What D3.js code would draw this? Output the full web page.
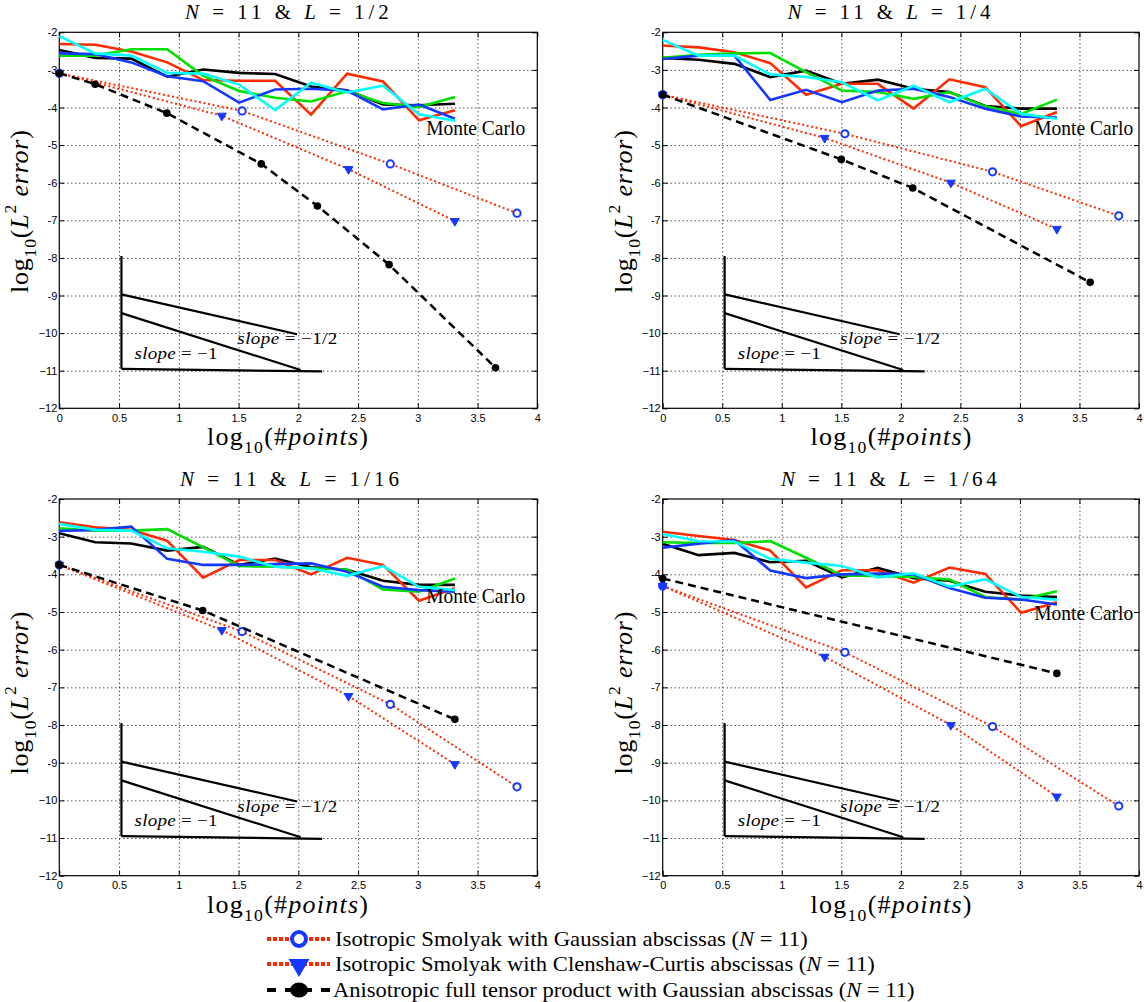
<!DOCTYPE html>
<html><head><meta charset="utf-8">
<script src="https://cdn.jsdelivr.net/npm/d3@7"></script>
<style>body{margin:0;background:#fff}svg{display:block;background:#fff}</style>
</head><body>
<script>
// ---------------- DATA ----------------
const mcX = [0, 0.301, 0.602, 0.903, 1.204, 1.505, 1.806, 2.107, 2.408, 2.709, 3.010, 3.311];

// L = 1/2
const mcBlack_2 = [-2.47,-2.68,-2.70,-3.18,-2.99,-3.08,-3.11,-3.44,-3.54,-3.92,-3.94,-3.90];
const mcRed_2   = [-2.31,-2.33,-2.51,-2.80,-3.27,-3.29,-3.29,-4.19,-3.10,-3.31,-4.34,-4.07];
const mcGreen_2 = [-2.62,-2.62,-2.45,-2.45,-3.16,-3.56,-3.74,-3.84,-3.57,-3.88,-3.99,-3.72];
const mcBlue_2  = [-2.56,-2.58,-2.80,-3.17,-3.30,-3.87,-3.52,-3.50,-3.55,-4.05,-3.92,-4.30];
const mcCyan_2  = [-2.10,-2.56,-2.62,-3.08,-3.10,-3.39,-4.07,-3.34,-3.60,-3.42,-4.18,-4.35];
// L = 1/4
const mcBlack_4 = [-2.68,-2.73,-2.84,-3.19,-3.02,-3.37,-3.26,-3.50,-3.59,-3.96,-4.03,-4.03];
const mcRed_4   = [-2.35,-2.40,-2.53,-2.82,-3.66,-3.37,-3.37,-4.03,-3.25,-3.46,-4.50,-4.12];
const mcGreen_4 = [-2.68,-2.60,-2.56,-2.55,-3.06,-3.55,-3.59,-3.77,-3.59,-3.97,-4.17,-3.79];
const mcBlue_4  = [-2.71,-2.62,-2.62,-3.80,-3.53,-3.86,-3.55,-3.50,-3.72,-4.03,-4.24,-4.27];
const mcCyan_4  = [-2.20,-2.62,-2.62,-3.12,-3.19,-3.33,-3.81,-3.42,-3.86,-3.50,-4.17,-4.30];
// L = 1/16
const mcBlack_16 = [-2.91,-3.15,-3.18,-3.37,-3.27,-3.75,-3.58,-3.81,-3.88,-4.17,-4.28,-4.28];
const mcRed_16   = [-2.62,-2.75,-2.82,-3.11,-4.09,-3.62,-3.62,-4.00,-3.56,-3.75,-4.70,-4.37];
const mcGreen_16 = [-2.78,-2.84,-2.84,-2.80,-3.28,-3.78,-3.80,-3.84,-3.87,-4.40,-4.46,-4.11];
const mcBlue_16  = [-2.85,-2.82,-2.73,-3.59,-3.75,-3.75,-3.73,-3.71,-3.93,-4.33,-4.42,-4.46];
const mcCyan_16  = [-2.66,-2.82,-2.84,-3.31,-3.40,-3.53,-3.80,-3.84,-4.04,-3.78,-4.33,-4.42];
// L = 1/64
const mcBlack_64 = [-3.19,-3.49,-3.43,-3.68,-3.64,-4.08,-3.83,-4.10,-4.17,-4.46,-4.56,-4.60];
const mcRed_64   = [-2.87,-2.98,-3.09,-3.37,-4.35,-3.89,-3.89,-4.22,-3.82,-3.99,-5.02,-4.74];
const mcGreen_64 = [-3.15,-3.17,-3.17,-3.12,-3.56,-4.03,-4.04,-4.07,-4.14,-4.60,-4.67,-4.45];
const mcBlue_64  = [-3.29,-3.19,-3.09,-3.90,-4.10,-4.00,-3.98,-4.00,-4.36,-4.62,-4.67,-4.80];
const mcCyan_64  = [-2.93,-3.12,-3.13,-3.59,-3.69,-3.78,-4.08,-3.97,-4.33,-4.13,-4.60,-4.67];

// Isotropic Smolyak
const gaussX = [0, 1.53, 2.77, 3.83];
const ccX    = [0, 1.36, 2.42, 3.31];
const gauss_2  = [-3.09,-4.09,-5.50,-6.81];
const cc_2     = [-3.09,-4.22,-5.64,-7.02];
const gauss_4  = [-3.66,-4.70,-5.71,-6.88];
const cc_4     = [-3.66,-4.81,-6.00,-7.23];
const gauss_16 = [-3.75,-5.52,-7.45,-9.64];
const cc_16    = [-3.75,-5.48,-7.23,-9.04];
const gauss_64 = [-4.31,-6.07,-8.04,-10.15];
const cc_64    = [-4.31,-6.19,-8.00,-9.90];

// Anisotropic full tensor product
const tensorX_2  = [0, 0.30, 0.90, 1.69, 2.16, 2.76, 3.65];
const tensorY_2  = [-3.09,-3.38,-4.15,-5.50,-6.62,-8.18,-10.92];
const tensorX_4  = [0, 1.50, 2.10, 3.59];
const tensorY_4  = [-3.66,-5.38,-6.14,-8.65];
const tensorX_16 = [0, 1.20, 3.31];
const tensorY_16 = [-3.75,-4.96,-7.85];
const tensorX_64 = [0, 3.31];
const tensorY_64 = [-4.11,-6.63];

// slope reference triangle (data coordinates)
const slopeVertX = [0.52, 0.52],  slopeVertY = [-7.95, -10.95];
const slopeHalfX = [0.52, 1.99],  slopeHalfY = [-8.97, -10.03];
const slopeOneX  = [0.52, 2.02],  slopeOneY  = [-9.47, -10.98];
const slopeBaseX = [0.52, 2.20],  slopeBaseY = [-10.95, -11.02];

const panelL = ["1/2", "1/4", "1/16", "1/64"];
const xTickValues = [0, 0.5, 1, 1.5, 2, 2.5, 3, 3.5, 4];
const xTickLabels = ["0", "0.5", "1", "1.5", "2", "2.5", "3", "3.5", "4"];
const yTickValues = [-2, -3, -4, -5, -6, -7, -8, -9, -10, -11, -12];
const yTickLabels = ["-2", "-3", "-4", "-5", "-6", "-7", "-8", "-9", "\u221210", "\u221211", "\u221212"];
const legendLabels = [
  "Isotropic Smolyak with Gaussian abscissas",
  "Isotropic Smolyak with Clenshaw-Curtis abscissas",
  "Anisotropic full tensor product with Gaussian abscissas"
];

// ---------------- STYLE / LAYOUT ----------------
const SERIF = "'Liberation Serif','Times New Roman',Times,serif";
const SANS = "'Liberation Sans',Arial,Helvetica,sans-serif";
const C = { black:"#000000", red:"#ff2a00", green:"#00e000", blue:"#1438ff", cyan:"#00ffff", dot:"#ff2a00", mark:"#1438ff" };

const panels = [
  { left:59.3, right:537.3, top:32.3, bottom:408.3, L:panelL[0],
    mc:[mcBlack_2, mcRed_2, mcGreen_2, mcBlue_2, mcCyan_2], gauss:gauss_2, cc:cc_2, tX:tensorX_2, tY:tensorY_2,
    mcLab:[3.07,-4.73], title:{cx:287.5, w:205, base:19}, xlab:{cx:287.5, base:445}, ylab:{cx:19, cy:211.5} },
  { left:662.7, right:1139, top:32.3, bottom:408.3, L:panelL[1],
    mc:[mcBlack_4, mcRed_4, mcGreen_4, mcBlue_4, mcCyan_4], gauss:gauss_4, cc:cc_4, tX:tensorX_4, tY:tensorY_4,
    mcLab:[3.12,-4.73], title:{cx:889.6, w:204, base:19}, xlab:{cx:891, base:445}, ylab:{cx:623, cy:211.5} },
  { left:59.3, right:537.3, top:499, bottom:875.7, L:panelL[2],
    mc:[mcBlack_16, mcRed_16, mcGreen_16, mcBlue_16, mcCyan_16], gauss:gauss_16, cc:cc_16, tX:tensorX_16, tY:tensorY_16,
    mcLab:[3.07,-4.77], title:{cx:290, w:220, base:486}, xlab:{cx:287.5, base:913}, ylab:{cx:19, cy:693} },
  { left:662.7, right:1139, top:499, bottom:875.7, L:panelL[3],
    mc:[mcBlack_64, mcRed_64, mcGreen_64, mcBlue_64, mcCyan_64], gauss:gauss_64, cc:cc_64, tX:tensorX_64, tY:tensorY_64,
    mcLab:[3.12,-5.21], title:{cx:889.5, w:217, base:486}, xlab:{cx:891, base:913}, ylab:{cx:623, cy:693} }
];
const mcColors = [C.black, C.red, C.green, C.blue, C.cyan];

const W = 1144, H = 1002;
const svg = d3.select("body").append("svg").attr("width", W).attr("height", H);
svg.append("rect").attr("width", W).attr("height", H).attr("fill", "#fff");

function richText(parent, parts, o) {
  const outer = parent.append("g").attr("transform", `translate(${o.x},${o.y})` + (o.rotate ? ` rotate(${o.rotate})` : ""));
  const inner = outer.append("g");
  const t = inner.append("text").attr("font-family", o.family || SERIF).attr("font-size", o.size)
    .style("white-space", "pre").attr("fill", "#000");
  let cur = 0;
  parts.forEach(p => {
    const s = t.append("tspan").text(p.t);
    if (p.it) s.attr("font-style", "italic");
    const off = p.sub ? o.size * 0.32 : p.sup ? -o.size * 0.45 : 0;
    if (off !== cur) { s.attr("dy", off - cur); cur = off; }
    if (p.sub || p.sup) s.attr("font-size", o.size * 0.68);
  });
  let w = t.node().getBBox().width;
  const maxS = o.maxScale || 1.12;
  if (o.width && o.width / w > maxS) {
    const n = t.text().length;
    const ls = (o.width / maxS - w) / Math.max(1, n - 1);
    t.attr("letter-spacing", ls.toFixed(2));
    w = t.node().getBBox().width - ls;
  }
  const sx = o.width ? o.width / w : 1;
  const anchor = o.anchor || "start";
  const shift = anchor === "middle" ? -w / 2 : anchor === "end" ? -w : 0;
  t.attr("x", shift);
  inner.attr("transform", `scale(${sx},1)`);
  return outer;
}

const triSym = d3.symbol().type(d3.symbolTriangle);

panels.forEach(p => {
  const x = d3.scaleLinear().domain([0, 4]).range([p.left, p.right]);
  const y = d3.scaleLinear().domain([-12, -2]).range([p.bottom, p.top]);
  const g = svg.append("g");
  const h = p.bottom - p.top, w = p.right - p.left;

  // grid
  const gx = g.append("g").attr("transform", `translate(0,${p.bottom})`)
    .call(d3.axisBottom(x).tickValues(xTickValues.slice(1, -1)).tickSize(-h).tickFormat(""));
  const gy = g.append("g").attr("transform", `translate(${p.left},0)`)
    .call(d3.axisLeft(y).tickValues(yTickValues.slice(1, -1)).tickSize(-w).tickFormat(""));
  [gx, gy].forEach(a => {
    a.select(".domain").remove();
    a.selectAll("line").attr("stroke", "#000").attr("stroke-width", 1).attr("stroke-dasharray", "1,3");
  });

  // axes with inward ticks + labels
  const ax = g.append("g").attr("transform", `translate(0,${p.bottom})`)
    .call(d3.axisBottom(x).tickValues(xTickValues).tickFormat((d, i) => xTickLabels[i]).tickSizeInner(-5).tickSizeOuter(0).tickPadding(6));
  const axT = g.append("g").attr("transform", `translate(0,${p.top})`)
    .call(d3.axisTop(x).tickValues(xTickValues).tickFormat("").tickSizeInner(-5).tickSizeOuter(0));
  const ay = g.append("g").attr("transform", `translate(${p.left},0)`)
    .call(d3.axisLeft(y).tickValues(yTickValues).tickFormat((d, i) => yTickLabels[i]).tickSizeInner(-5).tickSizeOuter(0).tickPadding(2));
  const ayR = g.append("g").attr("transform", `translate(${p.right},0)`)
    .call(d3.axisRight(y).tickValues(yTickValues).tickFormat("").tickSizeInner(-5).tickSizeOuter(0));
  [ax, axT, ay, ayR].forEach(a => {
    a.select(".domain").remove();
    a.selectAll("line").attr("stroke", "#000").attr("stroke-width", 1);
    a.selectAll("text").attr("font-family", SANS).attr("font-size", 11).attr("fill", "#000");
  });

  // box
  g.append("rect").attr("x", p.left).attr("y", p.top).attr("width", w).attr("height", h)
    .attr("fill", "none").attr("stroke", "#000").attr("stroke-width", 1.2);

  const line = d3.line().x(d => x(d[0])).y(d => y(d[1]));
  const zip = (xs, ys) => xs.map((v, i) => [v, ys[i]]);

  // slope triangle
  [[slopeVertX, slopeVertY], [slopeHalfX, slopeHalfY], [slopeOneX, slopeOneY], [slopeBaseX, slopeBaseY]].forEach(([xs, ys]) => {
    g.append("path").attr("d", line(zip(xs, ys))).attr("fill", "none").attr("stroke", "#000").attr("stroke-width", 2.2);
  });
  richText(g, [{ t: "slope", it: 1 }, { t: " = \u22121/2" }], { x: x(1.49), y: y(-10.30), size: 17, width: 100 });
  richText(g, [{ t: "slope", it: 1 }, { t: " = \u22121" }], { x: x(0.63), y: y(-10.68), size: 17, width: 83 });

  // Monte Carlo
  p.mc.forEach((ys, k) => {
    g.append("path").attr("d", line(zip(mcX, ys))).attr("fill", "none")
      .attr("stroke", mcColors[k]).attr("stroke-width", 2.6).attr("stroke-linejoin", "miter");
  });
  richText(g, [{ t: "Monte Carlo" }], { x: x(p.mcLab[0]), y: y(p.mcLab[1]), size: 20, width: 99 });

  // Smolyak Gaussian (circles)
  g.append("path").attr("d", line(zip(gaussX, p.gauss))).attr("fill", "none")
    .attr("stroke", C.dot).attr("stroke-width", 2).attr("stroke-dasharray", "2,2.6");
  // Smolyak CC (triangles)
  g.append("path").attr("d", line(zip(ccX, p.cc))).attr("fill", "none")
    .attr("stroke", C.dot).attr("stroke-width", 2).attr("stroke-dasharray", "2,2.6");
  g.selectAll(null).data(zip(gaussX, p.gauss)).join("circle")
    .attr("cx", d => x(d[0])).attr("cy", d => y(d[1])).attr("r", 3.6)
    .attr("fill", "#fff").attr("stroke", C.mark).attr("stroke-width", 2);
  g.selectAll(null).data(zip(ccX, p.cc)).join("path")
    .attr("d", triSym.size(34)())
    .attr("transform", d => `translate(${x(d[0])},${y(d[1])}) rotate(180)`)
    .attr("fill", C.mark).attr("stroke", C.mark).attr("stroke-width", 1);

  // tensor
  g.append("path").attr("d", line(zip(p.tX, p.tY))).attr("fill", "none")
    .attr("stroke", "#000").attr("stroke-width", 2.5).attr("stroke-dasharray", "8,5");
  g.selectAll(null).data(zip(p.tX, p.tY)).join("circle")
    .attr("cx", d => x(d[0])).attr("cy", d => y(d[1])).attr("r", 3.8).attr("fill", "#000");

  // title
  richText(svg, [{ t: "N", it: 1 }, { t: " = 11 & " }, { t: "L", it: 1 }, { t: " = " + p.L }],
    { x: p.title.cx, y: p.title.base, size: 21, width: p.title.w, anchor: "middle", maxScale: 1.0 });
  // x label
  richText(svg, [{ t: "log" }, { t: "10", sub: 1 }, { t: "(#" }, { t: "points", it: 1 }, { t: ")" }],
    { x: p.xlab.cx, y: p.xlab.base, size: 26, width: 161, anchor: "middle", maxScale: 1.0 });
  // y label
  richText(svg, [{ t: "log" }, { t: "10", sub: 1 }, { t: "(" }, { t: "L", it: 1 }, { t: "2", sup: 1 }, { t: " " }, { t: "error", it: 1 }, { t: ")" }],
    { x: p.ylab.cx + 9, y: p.ylab.cy, size: 26, width: 163, anchor: "middle", rotate: -90, maxScale: 1.0 });
});

// ---------------- LEGEND ----------------
const leg = svg.append("g");
const legY = [939, 964, 990];
const legW = [473, 540, 582];
legendLabels.forEach((lab, i) => {
  const yy = legY[i];
  if (i < 2) {
    leg.append("line").attr("x1", 267).attr("x2", 330).attr("y1", yy).attr("y2", yy)
      .attr("stroke", C.dot).attr("stroke-width", 4).attr("stroke-dasharray", "4,2");
  } else {
    leg.append("line").attr("x1", 267).attr("x2", 330).attr("y1", yy).attr("y2", yy)
      .attr("stroke", "#000").attr("stroke-width", 4).attr("stroke-dasharray", "9,9");
  }
  if (i === 0) {
    leg.append("circle").attr("cx", 299).attr("cy", yy).attr("r", 7).attr("fill", "#fff")
      .attr("stroke", C.mark).attr("stroke-width", 4);
  } else if (i === 1) {
    leg.append("path").attr("d", triSym.size(190)()).attr("transform", `translate(299,${yy + 1}) rotate(180)`)
      .attr("fill", C.mark);
  } else {
    leg.append("ellipse").attr("cx", 299).attr("cy", yy).attr("rx", 9).attr("ry", 7.5).attr("fill", "#000");
  }
  richText(leg, [{ t: lab + " (" }, { t: "N", it: 1 }, { t: " = 11)" }],
    { x: i === 2 ? 333 : 335, y: yy + 7, size: 22, width: legW[i] });
});
</script>
</body></html>
